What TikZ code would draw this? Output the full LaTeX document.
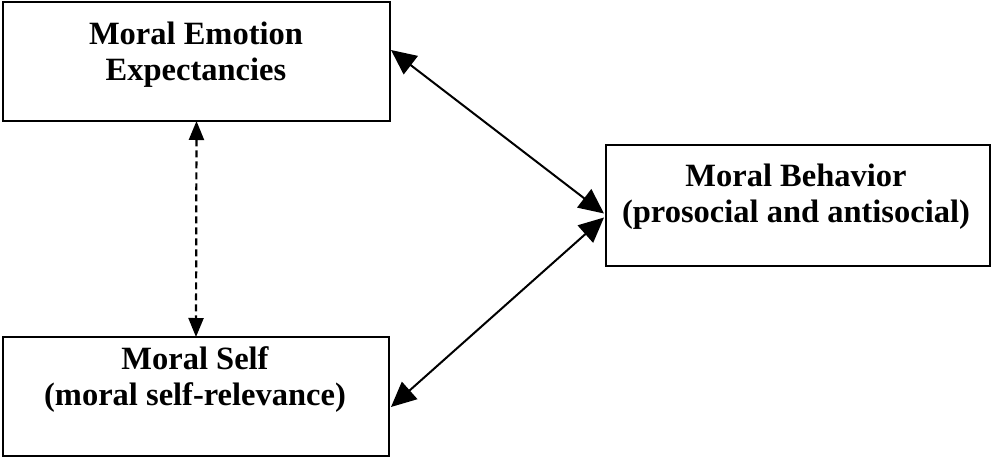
\documentclass[tikz,border=0pt]{standalone}
\usepackage{fontspec}
\setmainfont{Liberation Serif}
\usetikzlibrary{arrows.meta}
\begin{document}
\begin{tikzpicture}[x=1pt,y=-1pt,
  boxstyle/.style={draw=black,line width=2.2pt,rectangle,inner sep=0pt,outer sep=0pt},
  labelstyle/.style={align=center,inner sep=0pt,anchor=north,font=\bfseries\fontsize{32.5}{36}\selectfont},
  solidarrow/.style={line width=2pt,{Triangle[length=25pt,width=23pt]}-{Triangle[length=25pt,width=23pt]}},
  dasharrow/.style={line width=2.2pt,dash pattern=on 7pt off 4pt,{Triangle[length=19pt,width=15pt]}-{Triangle[length=19pt,width=15pt]}}]
\useasboundingbox (0,0) rectangle (993,458);
\node[boxstyle,minimum width=387pt,minimum height=119pt] (tl) at (196.5,61.5) {};
\node[boxstyle,minimum width=386pt,minimum height=119pt] (bl) at (196,396.5) {};
\node[boxstyle,minimum width=384pt,minimum height=121pt] (r) at (798,205.5) {};
\node[labelstyle] (tltext) at (196,22) {Moral Emotion\\Expectancies};
\node[labelstyle] (bltext) at (195,346) {Moral Self\\(moral self-relevance)};
\node[labelstyle] (rtext) at (796,164) {Moral Behavior\\(prosocial and antisocial)};
\draw[solidarrow] ([xshift=1pt,yshift=-48pt]tl.north east) -- ([xshift=-2pt,yshift=-8pt]r.west);
\draw[solidarrow] ([xshift=2pt,yshift=-70pt]bl.north east) -- ([xshift=-2pt,yshift=-12pt]r.west);
\draw[dasharrow] (tl.south) -- (bl.north);
\end{tikzpicture}
\end{document}
